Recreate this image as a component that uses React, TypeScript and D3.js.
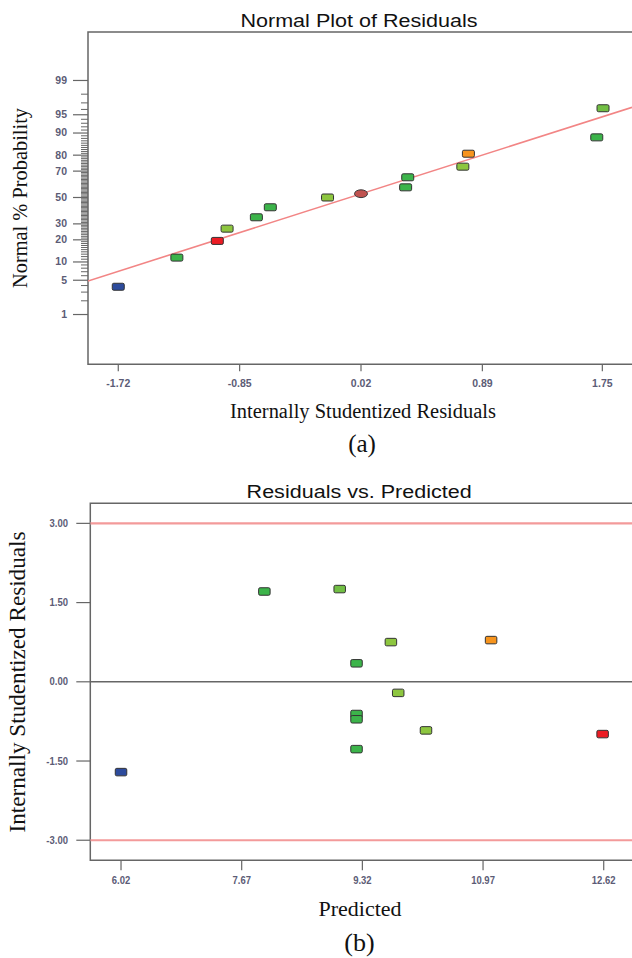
import React from 'react';
import * as d3 from 'd3';

// ---------- Panel (a): Normal plot of residuals ----------
const normMajorTicks = [1, 5, 10, 20, 30, 50, 70, 80, 90, 95, 99];
const normMinorTicks = [2, 3, 4, 6, 7, 8, 9, 11, 12, 13, 14, 15, 16, 17, 18, 19, 21, 22, 23, 24, 25, 26, 27, 28, 29,
  31, 32, 33, 34, 35, 36, 37, 38, 39, 40, 41, 42, 43, 44, 45, 46, 47, 48, 49, 51, 52, 53, 54, 55, 56, 57, 58, 59, 60,
  61, 62, 63, 64, 65, 66, 67, 68, 69, 71, 72, 73, 74, 75, 76, 77, 78, 79, 81, 82, 83, 84, 85, 86, 87, 88, 89,
  91, 92, 93, 94, 96, 97, 98];
const residTicks = [-1.72, -0.85, 0.02, 0.89, 1.75];
const normResid = [-1.72, -1.30, -1.01, -0.94, -0.73, -0.63, -0.22, 0.02, 0.34, 0.355, 0.75, 0.79, 1.71, 1.755];
const normPct = [3.8, 11.6, 19.4, 26.8, 34.7, 42.3, 50.0, 53.0, 58.0, 65.6, 73.0, 80.8, 88.4, 96.2];
const normColor = ['blue', 'green', 'red', 'lime', 'green', 'green', 'lime', 'center', 'green', 'green', 'lime', 'orange', 'green', 'mid'];
const fitResid = [-1.937, 1.963];
const fitPct = [4.85, 96.35];

// ---------- Panel (b): Residuals vs predicted ----------
const predTicks = [6.02, 7.67, 9.32, 10.97, 12.62];
const studTicks = [3.0, 1.5, 0.0, -1.5, -3.0];
const predX = [6.02, 7.98, 9.01, 9.24, 9.24, 9.24, 9.24, 9.71, 9.81, 10.19, 11.08, 12.605];
const predY = [-1.71, 1.71, 1.756, 0.35, -0.61, -0.71, -1.275, 0.752, -0.21, -0.92, 0.79, -0.99];
const predColor = ['blue', 'green', 'mid', 'green', 'green', 'green', 'green', 'lime', 'lime', 'lime', 'orange', 'red'];
const limitLines = [3.0, -3.0];

const palette: Record<string, string> = {
  blue: '#2d4b9c',
  green: '#3cb44a',
  mid: '#72bf44',
  lime: '#8dc63f',
  orange: '#f7941d',
  red: '#ec1c24',
  center: '#c0524f',
};

// inverse standard normal CDF (Acklam)
function probit(p: number): number {
  const a = [-3.969683028665376e1, 2.209460984245205e2, -2.759285104469687e2, 1.38357751867269e2, -3.066479806614716e1, 2.506628277459239];
  const b = [-5.447609879822406e1, 1.615858368580409e2, -1.556989798598866e2, 6.680131188771972e1, -1.328068155288572e1];
  const c = [-7.784894002430293e-3, -3.223964580411365e-1, -2.400758277161838, -2.549732539343734, 4.374664141464968, 2.938163982698783];
  const d = [7.784695709041462e-3, 3.224671290700398e-1, 2.445134137142996, 3.754408661907416];
  const pl = 0.02425;
  if (p < pl) {
    const q = Math.sqrt(-2 * Math.log(p));
    return (((((c[0] * q + c[1]) * q + c[2]) * q + c[3]) * q + c[4]) * q + c[5]) / ((((d[0] * q + d[1]) * q + d[2]) * q + d[3]) * q + 1);
  }
  if (p > 1 - pl) {
    const q = Math.sqrt(-2 * Math.log(1 - p));
    return -(((((c[0] * q + c[1]) * q + c[2]) * q + c[3]) * q + c[4]) * q + c[5]) / ((((d[0] * q + d[1]) * q + d[2]) * q + d[3]) * q + 1);
  }
  const q = p - 0.5;
  const r = q * q;
  return (((((a[0] * r + a[1]) * r + a[2]) * r + a[3]) * r + a[4]) * r + a[5]) * q / (((((b[0] * r + b[1]) * r + b[2]) * r + b[3]) * r + b[4]) * r + 1);
}

const SANS = '"Liberation Sans", Arial, sans-serif';
const SERIF = '"Liberation Serif", "Times New Roman", serif';
const TICK_COLOR = '#5c5c76';
const FRAME = '#666666';

function fmt2(v: number) {
  return v.toFixed(2);
}

function Marker({ cx, cy, kind, w, h }: { cx: number; cy: number; kind: string; w: number; h: number }) {
  if (kind === 'center') {
    return <ellipse cx={cx} cy={cy} rx={w / 2 + 0.5} ry={h / 2 + 0.4} fill={palette.center} stroke="#3a3a3a" strokeWidth={1} />;
  }
  return (
    <rect x={cx - w / 2} y={cy - h / 2} width={w} height={h} rx={1.5} fill={palette[kind]} stroke="#333" strokeWidth={1} />
  );
}

function TickLabel({ x, y, text, anchor, sx = 1.05 }: { x: number; y: number; text: string; anchor: string; sx?: number }) {
  return (
    <text transform={`translate(${x},${y}) scale(${sx},1)`} textAnchor={anchor} fontFamily={SANS} fontSize={10} fontWeight="bold" fill={TICK_COLOR} dominantBaseline="central">
      {text}
    </text>
  );
}

function PanelA() {
  const L = 88, T = 32, R = 634, B = 364.3;
  const x = d3.scaleLinear().domain([-1.937, 1.977]).range([L, R]);
  const z = d3.scaleLinear().domain([-3.316, 3.29]).range([B, T]);
  const y = (p: number) => z(probit(p / 100));
  const line = d3.line<number>().x((_, i) => x(fitResid[i])).y((_, i) => y(fitPct[i]));
  return (
    <g>
      <defs>
        <clipPath id="clipA">
          <rect x={L} y={T} width={R - L} height={B - T} />
        </clipPath>
      </defs>
      <text transform={`translate(${(L + 632) / 2 - 1},26.5) scale(1.165,1)`} textAnchor="middle" fontFamily={SANS} fontSize={18.5} fill="#111">
        Normal Plot of Residuals
      </text>
      <path d={`M${R},${T}H${L}V${B}H${R}`} fill="none" stroke={FRAME} strokeWidth={1.5} />
      {normMinorTicks.map((p) => (
        <line key={'m' + p} x1={L - 7} x2={L} y1={y(p)} y2={y(p)} stroke={FRAME} strokeWidth={1} />
      ))}
      {normMajorTicks.map((p) => (
        <g key={'M' + p}>
          <line x1={L - 15} x2={L} y1={y(p)} y2={y(p)} stroke={FRAME} strokeWidth={1.2} />
          <TickLabel x={67} y={y(p)} text={String(p)} anchor="end" />
        </g>
      ))}
      {residTicks.map((v) => (
        <g key={'x' + v}>
          <line x1={x(v)} x2={x(v)} y1={B} y2={B + 7} stroke={FRAME} strokeWidth={1.2} />
          <TickLabel x={x(v)} y={383.5} text={fmt2(v)} anchor="middle" />
        </g>
      ))}
      <path d={line(fitResid) || ''} fill="none" stroke="#f28585" strokeWidth={1.6} clipPath="url(#clipA)" />
      {normResid.map((r, i) => (
        <Marker key={i} cx={x(r)} cy={y(normPct[i])} kind={normColor[i]} w={12} h={7} />
      ))}
      <text x={363} y={418} textAnchor="middle" fontFamily={SERIF} fontSize={20.5} fill="#111" textLength={266} lengthAdjust="spacingAndGlyphs">
        Internally  Studentized  Residuals
      </text>
      <text transform={`translate(27,198) rotate(-90)`} textAnchor="middle" fontFamily={SERIF} fontSize={20} fill="#111" textLength={180} lengthAdjust="spacingAndGlyphs">
        Normal % Probability
      </text>
      <text x={362} y={452} textAnchor="middle" fontFamily={SERIF} fontSize={25} fill="#111">
        (a)
      </text>
    </g>
  );
}

function PanelB() {
  const L = 90.3, T = 503.3, R = 634, B = 860.3;
  const x = d3.scaleLinear().domain([5.6, 13.034]).range([L, R]);
  const y = d3.scaleLinear().domain([-3.38, 3.38]).range([B, T]);
  return (
    <g>
      <text transform={`translate(${(L + 632) / 2 - 2},498) scale(1.165,1)`} textAnchor="middle" fontFamily={SANS} fontSize={18.5} fill="#111">
        Residuals vs. Predicted
      </text>
      <path d={`M${R},${T}H${L}V${B}H${R}`} fill="none" stroke={FRAME} strokeWidth={1.5} />
      {limitLines.map((v) => (
        <line key={'lim' + v} x1={L} x2={R} y1={y(v)} y2={y(v)} stroke="#f39a9a" strokeWidth={2.2} />
      ))}
      <line x1={L} x2={R} y1={y(0)} y2={y(0)} stroke={FRAME} strokeWidth={1.5} />
      {studTicks.map((v) => (
        <g key={'y' + v}>
          <line x1={L - 14} x2={L} y1={y(v)} y2={y(v)} stroke={FRAME} strokeWidth={1.2} />
          <TickLabel x={68} y={y(v)} text={fmt2(v)} anchor="end" sx={0.95} />
        </g>
      ))}
      {predTicks.map((v) => (
        <g key={'x' + v}>
          <line x1={x(v)} x2={x(v)} y1={B} y2={B + 10} stroke={FRAME} strokeWidth={1.2} />
          <TickLabel x={x(v)} y={880} text={fmt2(v)} anchor="middle" sx={0.95} />
        </g>
      ))}
      {predX.map((v, i) => (
        <Marker key={i} cx={x(v)} cy={y(predY[i])} kind={predColor[i]} w={11.5} h={7.5} />
      ))}
      <text x={360} y={916} textAnchor="middle" fontFamily={SERIF} fontSize={22} fill="#111">
        Predicted
      </text>
      <text transform={`translate(25,682) rotate(-90)`} textAnchor="middle" fontFamily={SERIF} fontSize={22.5} fill="#111" textLength={301} lengthAdjust="spacingAndGlyphs">
        Internally Studentized Residuals
      </text>
      <text x={359.5} y={951} textAnchor="middle" fontFamily={SERIF} fontSize={26} fill="#111">
        (b)
      </text>
    </g>
  );
}

export default function App() {
  return (
    <svg width={632} height={958} viewBox="0 0 632 958" style={{ position: 'absolute', left: 0, top: 0, background: '#fff' }}>
      <rect x={0} y={0} width={632} height={958} fill="#fff" />
      <PanelA />
      <PanelB />
    </svg>
  );
}
